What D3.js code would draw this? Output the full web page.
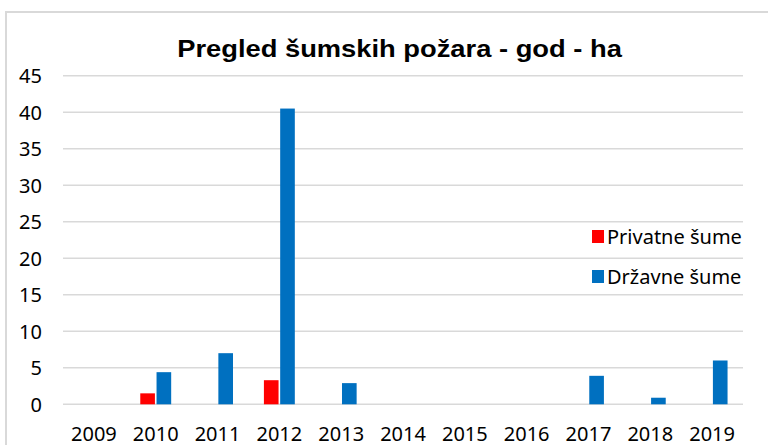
<!DOCTYPE html>
<html>
<head>
<meta charset="utf-8">
<script src="https://cdn.jsdelivr.net/npm/d3@7"></script>
<style>
  html, body { margin: 0; padding: 0; background: #fff; }
  svg { display: block; }
</style>
</head>
<body>
<svg id="chart" width="768" height="445"></svg>
<script>
// Forest fires per year (hectares), private vs state forests
const years = ["2009", "2010", "2011", "2012", "2013", "2014", "2015", "2016", "2017", "2018", "2019"];
const seriesNames = ["Privatne šume", "Državne šume"];
const privatneSume = [0, 1.5, 0, 3.3, 0, 0, 0, 0, 0, 0, 0];
const drzavneSume = [0, 4.4, 7.0, 40.5, 2.9, 0, 0, 0, 3.9, 0.9, 6.0];
const yTicks = [0, 5, 10, 15, 20, 25, 30, 35, 40, 45];
const seriesColors = ["#ff0000", "#0070c0"];
const titleText = "Pregled šumskih požara - god - ha";

const svg = d3.select("#chart");
const font = "'Noto Sans', 'Open Sans', sans-serif";

// outer chart frame
svg.append("rect")
  .attr("x", 6).attr("y", 12)
  .attr("width", 800).attr("height", 500)
  .attr("fill", "#fff")
  .attr("stroke", "#d9d9d9")
  .attr("stroke-width", 2);

const plot = { left: 63, right: 743, top: 75.7, bottom: 404.3 };

const x0 = d3.scaleBand().domain(years)
  .range([plot.left, plot.right])
  .paddingInner(0.5).paddingOuter(0.25);
const x1 = d3.scaleBand().domain(seriesNames)
  .range([0, x0.bandwidth()])
  .paddingInner(0.1);
const y = d3.scaleLinear().domain([0, 45]).range([plot.bottom, plot.top]);

// gridlines
svg.append("g")
  .selectAll("line")
  .data(yTicks)
  .join("line")
  .attr("x1", plot.left).attr("x2", plot.right)
  .attr("y1", d => y(d)).attr("y2", d => y(d))
  .attr("stroke", "#d9d9d9")
  .attr("stroke-width", 1.5);

// y axis labels
const yAxis = svg.append("g")
  .attr("transform", `translate(${plot.left - 21},0)`)
  .call(d3.axisLeft(y).tickValues(yTicks).tickSize(0).tickPadding(0));
yAxis.select(".domain").remove();
yAxis.selectAll("text")
  .attr("font-family", font)
  .attr("font-size", 20)
  .attr("fill", "#000")
  .attr("dy", "0.35em");

// x axis labels
const xAxis = svg.append("g")
  .attr("transform", `translate(0,${plot.bottom})`)
  .call(d3.axisBottom(d3.scaleBand().domain(years).range([plot.left, plot.right])).tickSize(0).tickPadding(0));
xAxis.select(".domain").remove();
xAxis.selectAll("text")
  .attr("font-family", font)
  .attr("font-size", 20)
  .attr("fill", "#000")
  .attr("y", 36.5)
  .attr("dy", 0);

// bars
const rows = years.map((yr, i) => ({ year: yr, values: [privatneSume[i], drzavneSume[i]] }));
svg.append("g")
  .selectAll("g")
  .data(rows)
  .join("g")
  .attr("transform", d => `translate(${x0(d.year)},0)`)
  .selectAll("rect")
  .data(d => d.values.map((v, j) => ({ key: seriesNames[j], value: v, color: seriesColors[j] })))
  .join("rect")
  .filter(d => d.value > 0)
  .attr("x", d => x1(d.key))
  .attr("width", x1.bandwidth())
  .attr("y", d => y(d.value))
  .attr("height", d => y(0) - y(d.value))
  .attr("fill", d => d.color);

// title, widened slightly to the chart's title span
const titleG = svg.append("g");
const title = titleG.append("text")
  .attr("x", 0).attr("y", 0)
  .attr("text-anchor", "middle")
  .attr("font-family", "'Liberation Sans', Arial, sans-serif")
  .attr("font-weight", "bold")
  .attr("font-size", 23.5)
  .attr("fill", "#000")
  .text(titleText);
const natural = title.node().getComputedTextLength();
const sx = 445 / natural;
titleG.attr("transform", `translate(399.5,57) scale(${sx},1)`);

// legend
const legend = svg.append("g").attr("transform", "translate(592,230)");
const item = legend.selectAll("g")
  .data(seriesNames)
  .join("g")
  .attr("transform", (d, i) => `translate(0,${i * 40})`);
item.append("rect")
  .attr("width", 12).attr("height", 13)
  .attr("fill", (d, i) => seriesColors[i]);
item.append("text")
  .attr("x", 15).attr("y", 14)
  .attr("font-family", font)
  .attr("font-size", 20)
  .attr("fill", "#000")
  .text(d => d);
</script>
</body>
</html>
